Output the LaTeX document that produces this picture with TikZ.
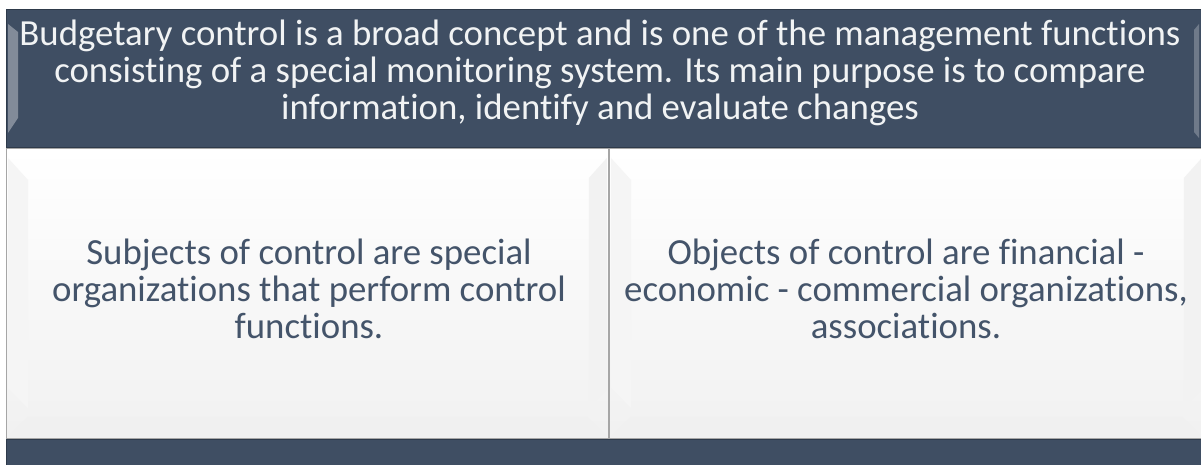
\documentclass[tikz,border=0pt]{standalone}
\usepackage{fontspec}
\setmainfont{Carlito}[Ligatures=NoCommon]
\definecolor{darkbox}{HTML}{3F4E63}
\definecolor{darkedge}{HTML}{2E3A4A}
\definecolor{txtcol}{HTML}{44546A}
\definecolor{bevel}{HTML}{EDEDED}
\definecolor{frame}{HTML}{A6A6A6}
\tikzset{
  darkpanel/.style={draw=darkedge, line width=0.8pt, fill=darkbox},
  whitepanel/.style={draw=frame, line width=0.8pt, top color=white, bottom color=bevel!80},
  toptext/.style={text=white!93!darkbox, font=\fontsize{36.8}{37}\selectfont, align=center, inner sep=0pt},
  bodytext/.style={text=txtcol, font=\fontsize{36.8}{37}\selectfont, align=center, inner sep=0pt},
}
\begin{document}
\begin{tikzpicture}[x=1pt,y=1pt]
\useasboundingbox (0,0) rectangle (1201,-465);
\fill[white] (0,0) rectangle (1201,-465);
% top panel
\node[darkpanel, minimum width=1197pt, minimum height=138pt, anchor=north west, inner sep=0pt] (top) at (6,-9) {};
\fill[white, opacity=0.35] (8,-24) -- (18,-32) -- (18,-118) -- (8,-133) -- cycle;
\fill[white, opacity=0.25] (1199,-24) -- (1194,-30) -- (1194,-132) -- (1199,-138) -- cycle;
\node[toptext] (toptxt) at (600,-73) {Budgetary control is a broad concept and is one of the management functions\\consisting of a special monitoring system. Its main purpose is to compare\\information, identify and evaluate changes};
% white panels
\node[whitepanel, minimum width=602pt, minimum height=290pt, anchor=north west, inner sep=0pt] (left) at (6,-148) {};
\node[whitepanel, minimum width=594pt, minimum height=290pt, anchor=north west, inner sep=0pt] (right) at (609,-148) {};
% bevels
\foreach \n in {left,right}{
  \fill[black!4] (\n.north west) ++(2,-10) -- ++(20,-22) -- ++(0,-228) -- ++(-20,20) -- cycle;
  \fill[black!6] (\n.south west) ++(2,2) -- ++(20,20) -- ([shift={(-22,22)}]\n.south east) -- ([shift={(-2,2)}]\n.south east) -- cycle;
  \fill[black!5] (\n.north east) ++(-2,-10) -- ++(-18,-20) -- ++(0,-230) -- ++(18,18) -- cycle;
}
\node[bodytext] (subj) at (309,-289) {Subjects of control are special\\organizations that perform control\\functions.};
\node[bodytext] (obj) at (906,-289) {Objects of control are financial -\\economic - commercial organizations,\\associations.};
% bottom bar
\node[darkpanel, minimum width=1197pt, minimum height=28pt, anchor=north west, inner sep=0pt] (bar) at (6,-439) {};
\end{tikzpicture}
\end{document}
